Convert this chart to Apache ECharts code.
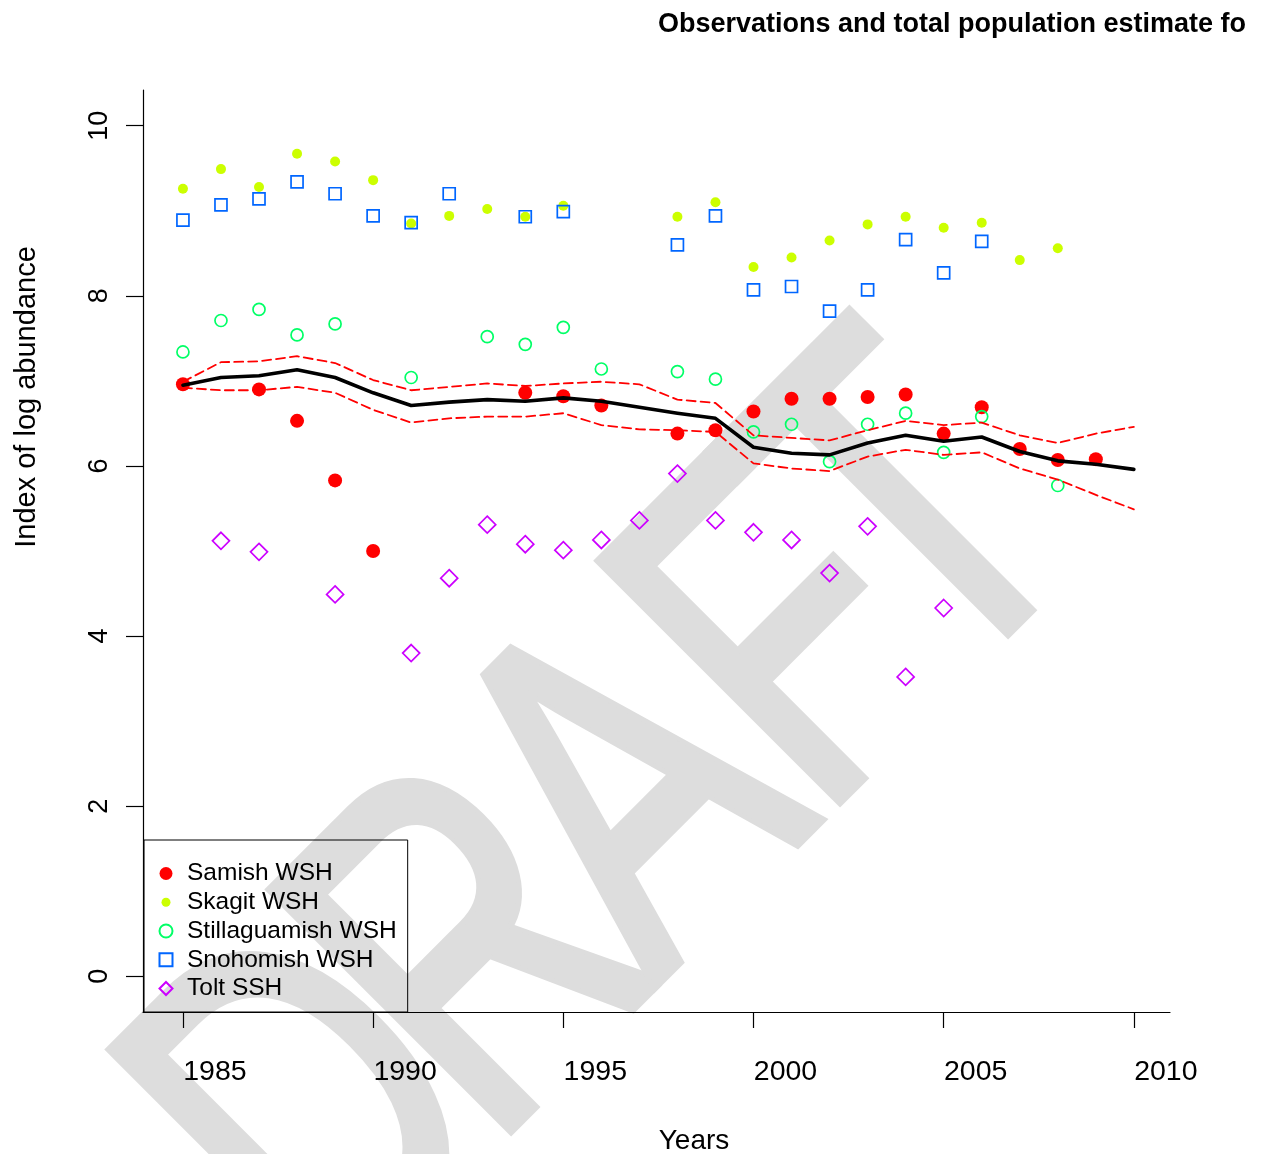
<!DOCTYPE html>
<html>
<head>
<meta charset="utf-8">
<script src="https://cdn.jsdelivr.net/npm/echarts@6/dist/echarts.min.js"></script>
<style>
  html, body { margin: 0; padding: 0; background: #ffffff; }
  #chart { width: 1246px; height: 1154px; }
</style>
</head>
<body>
<div id="chart"></div>
<script>
// Survey years
const years = [1985, 1986, 1987, 1988, 1989, 1990, 1991, 1992, 1993, 1994, 1995, 1996, 1997,
               1998, 1999, 2000, 2001, 2002, 2003, 2004, 2005, 2006, 2007, 2008, 2009, 2010];

// Observed index of log abundance per survey (null = no survey that year)
const samish = [6.96, null, 6.90, 6.53, 5.83, 5.00, null, null, null, 6.86, 6.82, 6.71, null,
                6.38, 6.42, 6.64, 6.79, 6.79, 6.81, 6.84, 6.38, 6.69, 6.20, 6.07, 6.08, null];
const skagit = [9.26, 9.49, 9.28, 9.67, 9.58, 9.36, 8.85, 8.94, 9.02, 8.93, 9.06, null, null,
                8.93, 9.10, 8.34, 8.45, 8.65, 8.84, 8.93, 8.80, 8.86, 8.42, 8.56, null, null];
const stillaguamish = [7.34, 7.71, 7.84, 7.54, 7.67, null, 7.04, null, 7.52, 7.43, 7.63, 7.14, null,
                       7.11, 7.02, 6.40, 6.49, 6.05, 6.49, 6.62, 6.16, 6.58, null, 5.77, null, null];
const snohomish = [8.89, 9.07, 9.14, 9.34, 9.20, 8.94, 8.86, 9.20, null, 8.93, 8.99, null, null,
                   8.60, 8.94, 8.07, 8.11, 7.82, 8.07, 8.66, 8.27, 8.64, null, null, null, null];
const tolt = [null, 5.12, 4.99, null, 4.49, null, 3.80, 4.68, 5.31, 5.08, 5.01, 5.13, 5.36,
              5.91, 5.36, 5.22, 5.13, 4.74, 5.29, 3.52, 4.33, null, null, null, null, null];

// Total population estimate with its upper and lower bounds
const estimate = [6.95, 7.04, 7.06, 7.13, 7.04, 6.86, 6.71, 6.75, 6.78, 6.76, 6.80, 6.76, 6.69,
                  6.62, 6.56, 6.22, 6.15, 6.13, 6.27, 6.36, 6.29, 6.34, 6.17, 6.06, 6.02, 5.96];
const upperBound = [6.99, 7.22, 7.23, 7.29, 7.21, 7.01, 6.89, 6.93, 6.97, 6.94, 6.97, 6.99, 6.96,
                    6.78, 6.74, 6.36, 6.33, 6.30, 6.42, 6.53, 6.48, 6.51, 6.36, 6.27, 6.38, 6.46];
const lowerBound = [6.92, 6.89, 6.89, 6.93, 6.86, 6.66, 6.51, 6.56, 6.58, 6.58, 6.62, 6.48, 6.43,
                    6.42, 6.40, 6.03, 5.97, 5.94, 6.11, 6.19, 6.13, 6.16, 5.97, 5.84, 5.66, 5.49];

// Tick labels
const xTicks = [1985, 1990, 1995, 2000, 2005, 2010];
const yTicks = [0, 2, 4, 6, 8, 10];

const FONT = "'Liberation Sans', Arial, Helvetica, sans-serif";

function pairs(values) {
  const out = [];
  values.forEach((v, i) => { if (v !== null) out.push([years[i], v]); });
  return out;
}

function filledSeries(name, values, color, symbol, size) {
  return {
    name: name, type: 'scatter', data: pairs(values),
    symbol: symbol, symbolSize: size, z: 3,
    itemStyle: { color: color, opacity: 1 },
    emphasis: { disabled: true }
  };
}

function hollowSeries(name, values, color, symbol, size) {
  return {
    name: name, type: 'scatter', data: pairs(values),
    symbol: symbol, symbolSize: size, z: 3,
    itemStyle: { color: 'rgba(0,0,0,0)', borderColor: color, borderWidth: 1.7, opacity: 1 },
    emphasis: { disabled: true }
  };
}

function lineSeries(values, color, width, dashed) {
  return {
    type: 'line', data: pairs(values), showSymbol: false, symbol: 'none', z: 5,
    lineStyle: { color: color, width: width, type: dashed ? [9, 5] : 'solid', cap: 'round', join: 'round' },
    emphasis: { disabled: true }, silent: true
  };
}

// Large grey "DRAFT" stamp across the figure, one glyph at a time along a 45 degree baseline
const stampLetters = ['D', 'R', 'A', 'F', 'T'];
const stampOffsets = [-800, -480, -165, 150, 398];
const stampGraphics = stampLetters.map((ch, i) => {
  const u = stampOffsets[i];
  return {
    type: 'text', z: -10, silent: true,
    x: (1448 + u) / 2, y: (1448 - u) / 2,
    rotation: Math.PI / 4, scaleX: 0.72, scaleY: 1,
    style: {
      text: ch, font: "490px 'Liberation Sans', Arial, sans-serif",
      fill: '#dddddd', stroke: '#dddddd', lineWidth: 12, lineJoin: 'round',
      align: 'center', verticalAlign: 'middle'
    }
  };
});

// Smaller dot used for the Skagit entry in the key
const smallDotIcon = 'path://M0,0L0,0M26,26L26,26M22,13A9,9,0,1,1,4,13A9,9,0,1,1,22,13Z';

const chart = echarts.init(document.getElementById('chart'), null, { renderer: 'canvas' });

chart.setOption({
  animation: false,
  backgroundColor: '#ffffff',
  title: {
    text: 'Observations and total population estimate for',
    left: 653, top: 6,
    textStyle: { fontFamily: FONT, fontSize: 27, fontWeight: 'bold', color: '#000' }
  },
  grid: { left: 143, top: 90, right: 1246 - 1170, bottom: 1154 - 1012, containLabel: false },
  legend: {
    orient: 'vertical', left: 144, top: 840,
    padding: [21, 11, 11, 14.5], itemGap: 3.75,
    itemWidth: 13, itemHeight: 13,
    borderColor: '#000', borderWidth: 1, backgroundColor: 'rgba(0,0,0,0)',
    textStyle: { fontFamily: FONT, fontSize: 24.5, color: '#000', padding: [0, 0, 0, 9.5] },
    selectedMode: false,
    data: [
      { name: 'Samish WSH' },
      { name: 'Skagit WSH', icon: smallDotIcon },
      { name: 'Stillaguamish WSH' },
      { name: 'Snohomish WSH' },
      { name: 'Tolt SSH' }
    ]
  },
  xAxis: {
    type: 'value', min: 1983.95, max: 2010.95,
    splitLine: { show: false },
    axisLine: { show: true, onZero: false, lineStyle: { color: '#000', width: 1.2 } },
    axisTick: { show: true, length: 16, lineStyle: { color: '#000', width: 1.2 }, customValues: xTicks },
    axisLabel: {
      show: true, customValues: xTicks, margin: 46,
      padding: [0, 0, 0, 64],
      fontFamily: FONT, fontSize: 28.5, color: '#000',
      formatter: v => String(v)
    }
  },
  yAxis: {
    type: 'value', min: -0.42, max: 10.42,
    splitLine: { show: false },
    axisLine: { show: true, lineStyle: { color: '#000', width: 1.2 } },
    axisTick: { show: true, length: 17, lineStyle: { color: '#000', width: 1.2 }, customValues: yTicks },
    axisLabel: {
      show: true, customValues: yTicks, rotate: 90, margin: 30,
      fontFamily: FONT, fontSize: 27, color: '#000',
      formatter: v => String(v)
    }
  },
  graphic: stampGraphics.concat([
    {
      type: 'text', x: 27, y: 397, rotation: Math.PI / 2, silent: true,
      style: { text: 'Index of log abundance', font: "29px 'Liberation Sans', Arial, sans-serif",
               fill: '#000', align: 'center', verticalAlign: 'middle' }
    },
    {
      type: 'text', x: 694, y: 1141, silent: true,
      style: { text: 'Years', font: "28px 'Liberation Sans', Arial, sans-serif",
               fill: '#000', align: 'center', verticalAlign: 'middle' }
    }
  ]),
  series: [
    filledSeries('Samish WSH', samish, '#FF0000', 'circle', 14),
    filledSeries('Skagit WSH', skagit, '#CCFF00', 'circle', 10),
    hollowSeries('Stillaguamish WSH', stillaguamish, '#00FF66', 'circle', 12),
    hollowSeries('Snohomish WSH', snohomish, '#0066FF', 'rect', 12),
    hollowSeries('Tolt SSH', tolt, '#CC00FF', 'diamond', 17),
    lineSeries(upperBound, '#FF0000', 1.8, true),
    lineSeries(lowerBound, '#FF0000', 1.8, true),
    lineSeries(estimate, '#000000', 3.6, false)
  ]
});
</script>
</body>
</html>
